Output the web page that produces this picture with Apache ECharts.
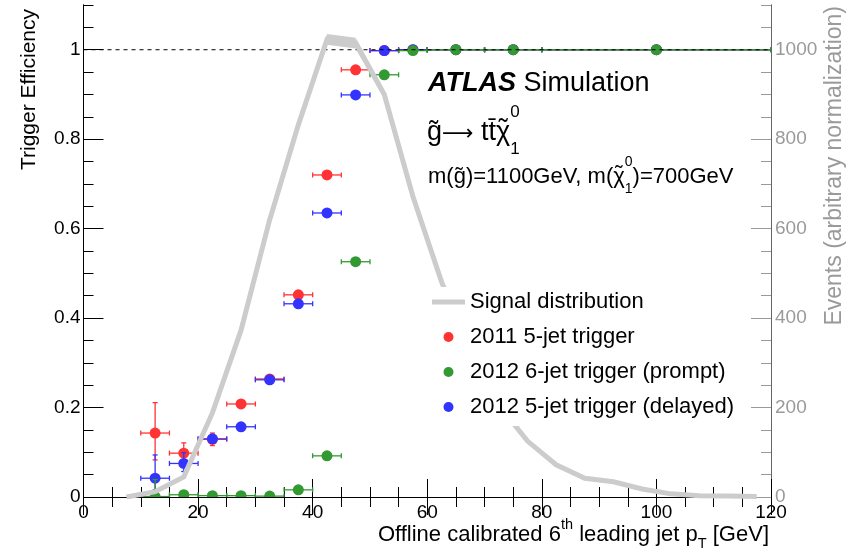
<!DOCTYPE html>
<html>
<head>
<meta charset="utf-8">
<title>trigger efficiency</title>
<script src="https://cdn.jsdelivr.net/npm/echarts@6/dist/echarts.min.js"></script>
<style>html,body{margin:0;padding:0;background:#fff;}</style>
</head>
<body>
<div id="main" style="width:859px;height:554px;"></div>
<script type="text/javascript">
// offline 6th jet pT bins [GeV]: centre and half width
var binCenter = [12.5, 17.5, 22.5, 27.5, 32.5, 37.5, 42.5, 47.5, 52.5, 57.5, 65, 75, 100];
var binHalf   = [2.5, 2.5, 2.5, 2.5, 2.5, 2.5, 2.5, 2.5, 2.5, 2.5, 5, 5, 20];

// 2011 5-jet trigger
var eff2011   = [0.143, 0.098, 0.129, 0.208, 0.264, 0.452, 0.720, 0.955, 0.998, 1.0, 1.0, 1.0, 1.0];
var errUp2011 = [0.068, 0.023, 0.014, 0.010, 0.008, 0.010, 0.008, 0.005, 0.002, 0, 0, 0, 0];
var errDn2011 = [0.060, 0.020, 0.014, 0.010, 0.008, 0.010, 0.008, 0.005, 0.002, 0, 0, 0, 0];

// 2012 6-jet trigger (prompt)
var eff2012p   = [0.001, 0.005, 0.003, 0.003, 0.002, 0.016, 0.092, 0.526, 0.944, 0.998, 1.0, 1.0, 1.0];
var errUp2012p = [0.038, 0.008, 0.003, 0.003, 0.002, 0.004, 0.006, 0.006, 0.004, 0.002, 0, 0, 0];
var errDn2012p = [0.001, 0.005, 0.003, 0.003, 0.002, 0.004, 0.006, 0.006, 0.004, 0.002, 0, 0, 0];

// 2012 5-jet trigger (delayed)
var eff2012d   = [0.042, 0.075, 0.130, 0.157, 0.262, 0.432, 0.635, 0.899, 0.998, 1.0, 1.0, 1.0, 1.0];
var errUp2012d = [0.052, 0.024, 0.012, 0.008, 0.008, 0.008, 0.006, 0.004, 0.002, 0, 0, 0, 0];
var errDn2012d = [0.026, 0.018, 0.012, 0.008, 0.008, 0.008, 0.006, 0.004, 0.002, 0, 0, 0, 0];

// signal distribution (right axis, arbitrary normalization)
var sigX   = [7.5, 12.5, 17.5, 22.5, 27.5, 32.5, 37.5, 42.5, 47.5, 52.5, 57.5, 62.5, 67.5, 72.5, 77.5, 82.5, 87.5, 92.5, 97.5, 102.5, 107.5, 112.5, 117.5];
var sigY   = [0, 12, 45, 188, 373, 620, 832, 1023, 1015, 900, 672, 481, 330, 205, 125, 72, 42, 34, 18, 7, 3, 2, 1];
var sigErr = [0, 1, 2, 4, 6, 8, 10, 12, 12, 10, 8, 6, 5, 4, 3, 2, 2, 1, 1, 1, 0, 0, 0];

var xTicks = [0, 120];
var fullEff = 1;

var FAM = '"Liberation Sans", Arial, sans-serif';
var ctx = document.createElement('canvas').getContext('2d');
function tw(s, size, weight, style, fam) {
    ctx.font = (style || 'normal') + ' ' + (weight || 'normal') + ' ' + size + 'px ' + (fam || FAM);
    return ctx.measureText(s).width;
}

// lay out a run of text pieces; 'stay' pieces do not advance x,
// 'over' centres a piece above the given string
function textRun(pieces, x, y, alignRight, fill) {
    var total = 0;
    pieces.forEach(function (p) {
        p.w = tw(p.t, p.size, p.weight, p.style, p.fam);
        if (!p.stay) total += p.w;
    });
    var cx = alignRight ? x - total : x;
    var out = [];
    pieces.forEach(function (p) {
        var dx = 0;
        if (p.over) dx = (tw(p.over, p.size, p.weight, p.style, p.fam) - p.w) / 2;
        out.push({
            type: 'text', x: cx + dx, y: y + (p.dy || 0), z: 100,
            style: {
                text: p.t, fontSize: p.size, fontFamily: p.fam || FAM,
                fontWeight: p.weight || 'normal', fontStyle: p.style || 'normal',
                fill: fill || '#000', align: 'left', verticalAlign: 'middle'
            }
        });
        if (!p.stay) cx += p.w;
    });
    return out;
}

function makeData(eff, up, dn) {
    return binCenter.map(function (x, i) {
        return [x, eff[i], x - binHalf[i], x + binHalf[i], eff[i] - dn[i], eff[i] + up[i]];
    });
}

function renderErr(params, api) {
    var color = api.visual('color');
    var c = api.coord([api.value(0), api.value(1)]);
    var l = api.coord([api.value(2), api.value(1)]);
    var r = api.coord([api.value(3), api.value(1)]);
    var b = api.coord([api.value(0), api.value(4)]);
    var t = api.coord([api.value(0), api.value(5)]);
    var st = {stroke: color, lineWidth: 1.3};
    var cap = 2.5;
    var kids = [
        {type: 'line', shape: {x1: l[0], y1: l[1], x2: r[0], y2: r[1]}, style: st},
        {type: 'line', shape: {x1: l[0], y1: l[1] - cap, x2: l[0], y2: l[1] + cap}, style: st},
        {type: 'line', shape: {x1: r[0], y1: r[1] - cap, x2: r[0], y2: r[1] + cap}, style: st}
    ];
    if (b[1] - t[1] > 3) {
        kids.push({type: 'line', shape: {x1: c[0], y1: t[1], x2: c[0], y2: b[1]}, style: st});
        if (c[1] - t[1] > 6) kids.push({type: 'line', shape: {x1: c[0] - cap, y1: t[1], x2: c[0] + cap, y2: t[1]}, style: st});
        if (b[1] - c[1] > 6) kids.push({type: 'line', shape: {x1: c[0] - cap, y1: b[1], x2: c[0] + cap, y2: b[1]}, style: st});
    }
    kids.push({type: 'circle', shape: {cx: c[0], cy: c[1], r: 5.5}, style: {fill: color}});
    return {type: 'group', children: kids};
}

function renderBand(params, api) {
    var i = params.dataIndex;
    if (i >= sigX.length - 1) return null;
    var p = [
        api.coord([sigX[i], sigY[i] + sigErr[i]]),
        api.coord([sigX[i + 1], sigY[i + 1] + sigErr[i + 1]]),
        api.coord([sigX[i + 1], sigY[i + 1] - sigErr[i + 1]]),
        api.coord([sigX[i], sigY[i] - sigErr[i]])
    ];
    return {type: 'polygon', shape: {points: p}, style: {fill: '#cccccc'}};
}

var myChart = echarts.init(document.getElementById('main'));

var black = '#000';
var grey = '#9a9a9a';
var labelFont = 19;

function frameX(pos, showLabel) {
    return {
        type: 'value', min: xTicks[0], max: xTicks[1], interval: 20, position: pos,
        axisLine: {show: true, lineStyle: {color: black, width: 1}},
        axisTick: {show: true, inside: true, length: 18, lineStyle: {color: black}},
        minorTick: {show: true, splitNumber: 4, length: 10, lineStyle: {color: black}},
        axisLabel: {show: showLabel, fontSize: labelFont, color: black, fontFamily: FAM, margin: 6},
        splitLine: {show: false}
    };
}

function frameY(pos, max, interval, tickLen, showLabel, color, lineColor) {
    return {
        type: 'value', min: 0, max: max, interval: interval, position: pos,
        axisLine: {show: true, lineStyle: {color: lineColor, width: 1}},
        axisTick: {show: true, inside: true, length: tickLen, lineStyle: {color: color}},
        axisLabel: {
            show: showLabel, fontSize: labelFont, color: color, fontFamily: FAM,
            margin: pos === 'left' ? 3 : 4, showMaxLabel: false,
            formatter: function (v) { return String(v); }
        },
        splitLine: {show: false}
    };
}

var graphics = [];
graphics = graphics.concat(textRun([
    {t: 'ATLAS', size: 27, weight: 'bold', style: 'italic'},
    {t: ' Simulation', size: 27}
], 428, 84, false));
graphics = graphics.concat(textRun([
    {t: 'g\u0303', size: 27},
    {t: '\u27f6', size: 22, fam: '"DejaVu Sans"', dy: 1},
    {t: ' tt\u0304', size: 27},
    {t: '\u02dc', size: 27, over: '\u03c7', stay: true, dy: -2},
    {t: '\u03c7', size: 27},
    {t: '0', size: 17, dy: -21, stay: true},
    {t: '1', size: 17, dy: 16}
], 427, 133, false));
graphics = graphics.concat(textRun([
    {t: 'm(g\u0303)=1100GeV, m(', size: 22},
    {t: '\u02dc', size: 22, over: '\u03c7', stay: true, dy: -2},
    {t: '\u03c7', size: 22},
    {t: '0', size: 14, dy: -15, stay: true},
    {t: '1', size: 14, dy: 12},
    {t: ')=700GeV', size: 22}
], 428, 177, false));
graphics = graphics.concat(textRun([
    {t: 'Offline calibrated 6', size: 22},
    {t: 'th', size: 14.5, dy: -10},
    {t: ' leading jet p', size: 22},
    {t: 'T', size: 14.5, dy: 9},
    {t: ' [GeV]', size: 22}
], 769, 535, true));
graphics.push({
    type: 'text', x: 29, y: 9, rotation: Math.PI / 2, z: 100,
    style: {text: 'Trigger Efficiency', fontSize: 21, fontFamily: FAM, fill: black, align: 'right', verticalAlign: 'middle'}
});
graphics.push({
    type: 'text', x: 835, y: 6, rotation: Math.PI / 2, z: 100,
    style: {text: 'Events (arbitrary normalization)', fontSize: 23, fontFamily: FAM, fill: grey, align: 'right', verticalAlign: 'middle'}
});

var option = {
    animation: false,
    backgroundColor: '#fff',
    grid: {left: 83.5, right: 88, top: 5, bottom: 57, containLabel: false},
    xAxis: [frameX('bottom', true), frameX('top', false)],
    yAxis: [
        frameY('left', 1.1, 0.2, 20, true, black, black),
        frameY('left', 1.1, 0.05, 10, false, black, black),
        frameY('right', 1100, 200, 20, true, grey, '#666'),
        frameY('right', 1100, 50, 10, false, grey, '#666')
    ],
    legend: {
        orient: 'vertical', left: 425, top: 287,
        padding: [4, 10, 8, 7],
        backgroundColor: '#fff',
        itemWidth: 33, itemHeight: 10, itemGap: 13,
        textStyle: {fontSize: 22, color: black, fontFamily: FAM},
        data: [
            {name: 'Signal distribution', icon: 'path://M0,0L33,0L33,5L0,5Z'},
            {name: '2011 5-jet trigger', icon: 'circle'},
            {name: '2012 6-jet trigger (prompt)', icon: 'circle'},
            {name: '2012 5-jet trigger (delayed)', icon: 'circle'}
        ]
    },
    series: [
        {
            type: 'line', xAxisIndex: 0, yAxisIndex: 0, symbol: 'none', silent: true,
            data: [[xTicks[0], fullEff], [xTicks[1], fullEff]],
            lineStyle: {color: black, width: 1, type: [4, 4]}
        },
        {
            type: 'custom', xAxisIndex: 0, yAxisIndex: 2, renderItem: renderBand,
            data: sigX.map(function (x, i) { return [x, sigY[i]]; }), silent: true
        },
        {
            name: 'Signal distribution', type: 'line', xAxisIndex: 0, yAxisIndex: 2,
            symbol: 'none', color: '#cccccc',
            data: sigX.map(function (x, i) { return [x, sigY[i]]; }),
            lineStyle: {color: '#cccccc', width: 5, join: 'miter'}
        },
        {
            name: '2011 5-jet trigger', type: 'custom', xAxisIndex: 0, yAxisIndex: 0, clip: true,
            itemStyle: {color: '#ff3333'}, renderItem: renderErr,
            data: makeData(eff2011, errUp2011, errDn2011)
        },
        {
            name: '2012 5-jet trigger (delayed)', type: 'custom', xAxisIndex: 0, yAxisIndex: 0, clip: true,
            itemStyle: {color: '#3333ff'}, renderItem: renderErr,
            data: makeData(eff2012d, errUp2012d, errDn2012d)
        },
        {
            name: '2012 6-jet trigger (prompt)', type: 'custom', xAxisIndex: 0, yAxisIndex: 0, clip: true,
            itemStyle: {color: '#339933'}, renderItem: renderErr,
            data: makeData(eff2012p, errUp2012p, errDn2012p)
        }
    ],
    graphic: graphics
};

myChart.setOption(option);
</script>
</body>
</html>
